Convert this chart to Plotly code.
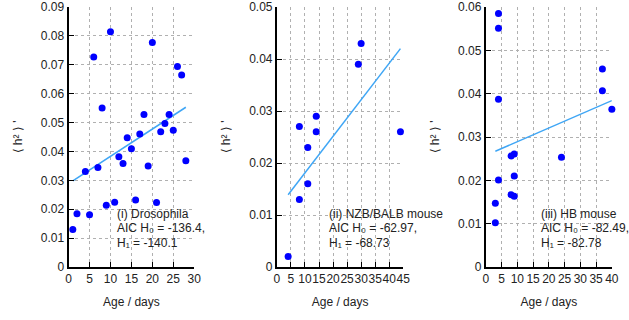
import plotly.graph_objects as go

# Panel (i) Drosophila
dros_age = [1, 2, 4, 5, 6, 7, 8, 9, 10, 11, 12, 13, 14, 15, 16, 17, 18, 19, 20, 21, 22, 23, 24, 25, 26, 27, 28]
dros_h2 = [0.0130, 0.0184, 0.0331, 0.0181, 0.0727, 0.0344, 0.0550, 0.0214, 0.0814, 0.0224, 0.0382, 0.0358,
           0.0447, 0.0409, 0.0232, 0.0460, 0.0528, 0.0350, 0.0777, 0.0223, 0.0468, 0.0497, 0.0528, 0.0473,
           0.0694, 0.0665, 0.0368]
dros_fit_x = [1, 28]
dros_fit_y = [0.0298, 0.0553]

# Panel (ii) NZB/BALB mouse
nzb_age = [4, 8, 8, 11, 11, 14, 14, 29, 30, 44]
nzb_h2 = [0.0020, 0.0130, 0.0270, 0.0160, 0.0230, 0.0290, 0.0260, 0.0390, 0.0430, 0.0260]
nzb_fit_x = [4, 44]
nzb_fit_y = [0.0139, 0.0420]

# Panel (iii) HB mouse
hb_age = [3, 3, 4, 4, 4, 4, 8, 8, 9, 9, 9, 24, 37, 37, 40]
hb_h2 = [0.0102, 0.0147, 0.0201, 0.0387, 0.0551, 0.0585, 0.0167, 0.0256, 0.0261, 0.0210, 0.0163, 0.0253,
         0.0457, 0.0407, 0.0364]
hb_fit_x = [3, 40]
hb_fit_y = [0.0267, 0.0384]

# Annotation lines
dros_label = ["(i) Drosophila", "AIC H₀ = -136.4,", "H₁ = -140.1"]
nzb_label = ["(ii) NZB/BALB mouse", "AIC H₀ = -62.97,", "H₁ = -68.73"]
hb_label = ["(iii) HB mouse", "AIC H₀ = -82.49,", "H₁ = -82.78"]

panels = [
    dict(x=dros_age, y=dros_h2, fx=dros_fit_x, fy=dros_fit_y, xr=[0, 30], yr=[0, 0.09],
         label=dros_label, ax=11.1, dom=[0.1060, 0.3089]),
    dict(x=nzb_age, y=nzb_h2, fx=nzb_fit_x, fy=nzb_fit_y, xr=[0, 45], yr=[0, 0.05],
         label=nzb_label, ax=17.8, dom=[0.4425, 0.6466]),
    dict(x=hb_age, y=hb_h2, fx=hb_fit_x, fy=hb_fit_y, xr=[0, 40], yr=[0, 0.06],
         label=hb_label, ax=16.9, dom=[0.7801, 0.9836]),
]

FONT = "Liberation Sans, Arial, sans-serif"
TXT = "#222222"
line_py = [214, 228.5, 243]  # pixel rows of annotation lines

fig = go.Figure()
layout = dict(
    width=629, height=320,
    margin=dict(l=0, r=0, t=5, b=53),
    paper_bgcolor="white", plot_bgcolor="white",
    showlegend=False,
    font=dict(family=FONT, size=12, color=TXT),
)
annotations = []
for i, p in enumerate(panels):
    n = "" if i == 0 else str(i + 1)
    fig.add_trace(go.Scatter(x=p["fx"], y=p["fy"], mode="lines",
                             line=dict(color="#3fa6f5", width=1.5),
                             xaxis="x" + n, yaxis="y" + n, hoverinfo="skip"))
    fig.add_trace(go.Scatter(x=p["x"], y=p["y"], mode="markers",
                             marker=dict(color="#0000ff", size=7),
                             xaxis="x" + n, yaxis="y" + n, cliponaxis=False))
    common = dict(showgrid=True, gridcolor="#b0b0b0", griddash="dot", gridwidth=1,
                  showline=True, linecolor="black", linewidth=2,
                  ticks="inside", ticklen=5, tickwidth=1, tickcolor="black",
                  zeroline=False, ticklabeloverflow="allow",
                  tickfont=dict(family=FONT, size=12, color=TXT))
    xr = [p["xr"][0], p["xr"][1] * 1.00001]
    yr = [p["yr"][0], p["yr"][1] * 1.00001]
    layout["xaxis" + n] = dict(common, domain=p["dom"], range=xr, dtick=5, tick0=0,
                               anchor="y" + n, tickangle=0,
                               title=dict(text="Age / days", standoff=12,
                                          font=dict(family=FONT, size=12, color=TXT)))
    layout["yaxis" + n] = dict(common, domain=[0, 1], range=yr, dtick=0.01, tick0=0,
                               anchor="x" + n,
                               title=dict(text="⟨ h² ⟩ '", standoff=16,
                                          font=dict(family=FONT, size=12, color=TXT)))
    for txt, py in zip(p["label"], line_py):
        annotations.append(dict(text=txt, xref="x" + n, yref="y" + n + " domain",
                                x=p["ax"], y=(267.3 - py) / 262.0,
                                xanchor="left", yanchor="middle", align="left", showarrow=False,
                                font=dict(family=FONT, size=12, color=TXT)))
layout["annotations"] = annotations
fig.update_layout(**layout)
fig.write_html("out.html")
